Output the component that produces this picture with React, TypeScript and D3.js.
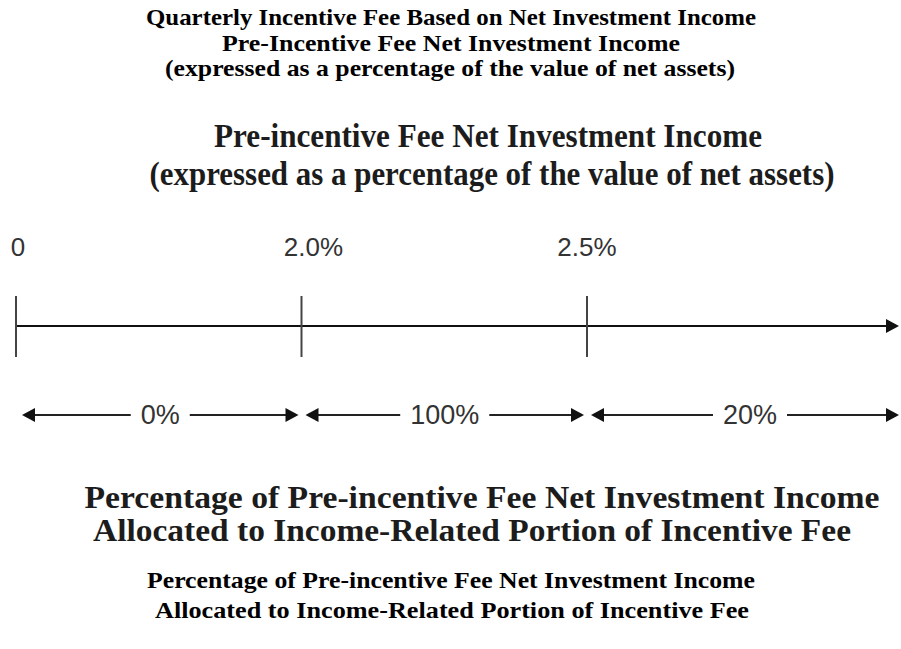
import { useRef, useEffect } from "react";
import * as d3 from "d3";

// header / footer texts
const titleLines = [
  "Quarterly Incentive Fee Based on Net Investment Income",
  "Pre-Incentive Fee Net Investment Income",
  "(expressed as a percentage of the value of net assets)",
];
const headingLines = [
  "Pre-incentive Fee Net Investment Income",
  "(expressed as a percentage of the value of net assets)",
];
const allocationTitleLines = [
  "Percentage of Pre-incentive Fee Net Investment Income",
  "Allocated to Income-Related Portion of Incentive Fee",
];
const footerLines = [
  "Percentage of Pre-incentive Fee Net Investment Income",
  "Allocated to Income-Related Portion of Incentive Fee",
];

// hurdle breakpoints (tick labels) and share allocated in each band
const breakpoints = ["0", "2.0%", "2.5%"];
const allocations = ["0%", "100%", "20%"];

const App = () => {
  const chartRef = useRef<SVGSVGElement | null>(null);

  useEffect(() => {
    if (chartRef.current === null) return;

    const width = 901;
    const height = 649;
    const axisY = 326;
    const arrowRowY = 415;
    const axisEnd = 899;

    const svg = d3.select(chartRef.current);
    svg.selectAll("*").remove();
    svg.attr("width", width).attr("height", height);

    const serif = "'Liberation Serif', 'Times New Roman', serif";
    const sans = "'Liberation Sans', Arial, sans-serif";

    // centred bold serif lines, squeezed to the widths seen in the scan
    const textBlock = (
      lines: string[],
      centers: number[],
      widths: number[],
      firstBaseline: number,
      lineGap: number,
      size: number,
      fill: string
    ) => {
      svg
        .append("g")
        .selectAll("text")
        .data(lines)
        .enter()
        .append("text")
        .attr("x", (_, i) => centers[i])
        .attr("y", (_, i) => firstBaseline + i * lineGap)
        .attr("text-anchor", "middle")
        .attr("font-family", serif)
        .attr("font-weight", "bold")
        .attr("font-size", size)
        .attr("fill", fill)
        .attr("textLength", (_, i) => widths[i])
        .attr("lengthAdjust", "spacingAndGlyphs")
        .text((d) => d);
    };

    textBlock(titleLines, [451, 451, 450], [610, 458, 570], 25, 25.5, 23, "#000");
    textBlock(headingLines, [488, 492], [548, 685], 147, 38, 33, "#1c1c1c");
    textBlock(allocationTitleLines, [482, 472], [795, 758], 508, 33, 32, "#1c1c1c");
    textBlock(footerLines, [451, 452], [608, 594], 588, 30, 23, "#000");

    const x = d3.scalePoint<string>().domain(breakpoints).range([16, 587]);

    // main axis line with arrow head
    svg
      .append("line")
      .attr("x1", x("0") ?? 0)
      .attr("x2", axisEnd - 10)
      .attr("y1", axisY)
      .attr("y2", axisY)
      .attr("stroke", "#111")
      .attr("stroke-width", 2);

    const arrowHead = (tipX: number, y: number, dir: 1 | -1) => {
      const len = 13;
      const half = 7;
      svg
        .append("path")
        .attr(
          "d",
          `M${tipX},${y}L${tipX - dir * len},${y - half}L${tipX - dir * len},${y + half}Z`
        )
        .attr("fill", "#111");
    };
    arrowHead(axisEnd, axisY, 1);

    // breakpoint ticks
    svg
      .append("g")
      .selectAll("line")
      .data(breakpoints)
      .enter()
      .append("line")
      .attr("x1", (d) => x(d) ?? 0)
      .attr("x2", (d) => x(d) ?? 0)
      .attr("y1", axisY - 30)
      .attr("y2", axisY + 31)
      .attr("stroke", "#444")
      .attr("stroke-width", 2);

    svg
      .append("g")
      .selectAll("text")
      .data(breakpoints)
      .enter()
      .append("text")
      .attr("x", (d, i) => (x(d) ?? 0) + (i === 1 ? 12 : i === 0 ? 2 : 0))
      .attr("y", 256)
      .attr("text-anchor", "middle")
      .attr("font-family", sans)
      .attr("font-size", 26)
      .attr("fill", "#333")
      .text((d) => d);

    // allocation bands: double-headed arrows with the share in the middle
    const bounds = breakpoints.map((b) => x(b) ?? 0).concat([axisEnd]);
    allocations.forEach((label, i) => {
      const start = bounds[i] + (i === 0 ? 6 : 4);
      const end = i === allocations.length - 1 ? bounds[i + 1] : bounds[i + 1] - 3;
      const mid = (start + end) / 2 + (i === 2 ? 5 : 0);

      const t = svg
        .append("text")
        .attr("x", mid)
        .attr("y", arrowRowY + 9)
        .attr("text-anchor", "middle")
        .attr("font-family", sans)
        .attr("font-size", 27)
        .attr("fill", "#333")
        .text(label);
      const w = (t.node() as SVGTextElement).getComputedTextLength();
      const gap = 10;

      svg
        .append("line")
        .attr("x1", start + 8)
        .attr("x2", mid - w / 2 - gap)
        .attr("y1", arrowRowY)
        .attr("y2", arrowRowY)
        .attr("stroke", "#222")
        .attr("stroke-width", 2);
      svg
        .append("line")
        .attr("x1", mid + w / 2 + gap)
        .attr("x2", end - 8)
        .attr("y1", arrowRowY)
        .attr("y2", arrowRowY)
        .attr("stroke", "#222")
        .attr("stroke-width", 2);

      arrowHead(start, arrowRowY, -1);
      arrowHead(end, arrowRowY, 1);
    });
  }, []);

  return (
    <div style={{ position: "absolute", left: 0, top: 0, background: "#fff" }}>
      <svg ref={chartRef} style={{ display: "block" }} />
    </div>
  );
};

export default App;
